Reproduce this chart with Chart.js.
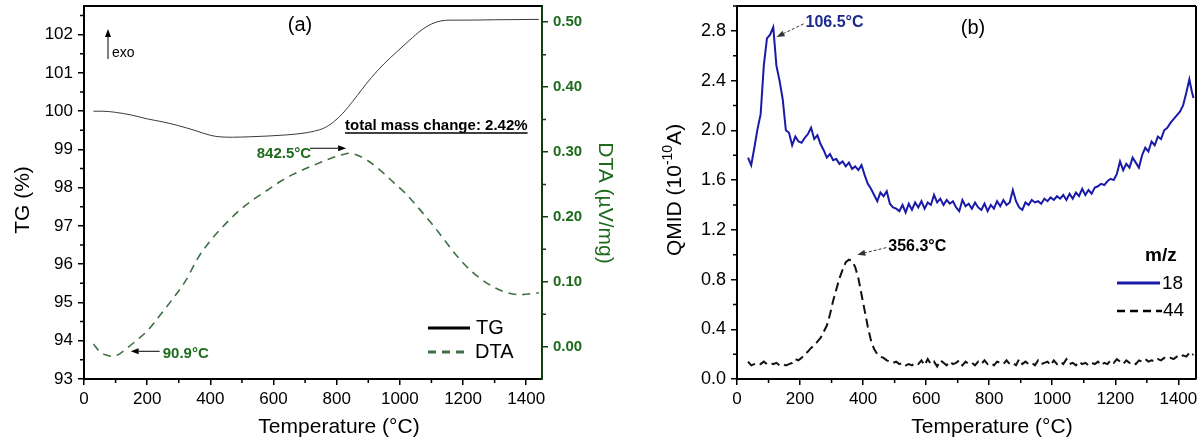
<!DOCTYPE html>
<html>
<head>
<meta charset="utf-8">
<script src="https://cdn.jsdelivr.net/npm/chart.js@4.4.0/dist/chart.umd.min.js"></script>
<style>
  html, body { margin: 0; padding: 0; background: #fff; }
  #wrapA { position: absolute; left: 0; top: 0; width: 620px; height: 443px; }
  #wrapB { position: absolute; left: 620px; top: 0; width: 582px; height: 443px; }
</style>
</head>
<body>
<div id="wrapA"><canvas id="chartA"></canvas></div>
<div id="wrapB"><canvas id="chartB"></canvas></div>
<script>
// ---- panel (a): TG / DTA ----
var tgTemp  = [30, 60, 100, 150, 200, 250, 300, 350, 400, 430, 470, 520, 580, 640, 690, 730, 760, 790, 820, 850, 880, 910, 950, 990, 1030, 1070, 1100, 1130, 1160, 1200, 1300, 1440];
var tgValue = [100.0, 100.0, 99.97, 99.9, 99.8, 99.72, 99.62, 99.5, 99.37, 99.33, 99.32, 99.33, 99.35, 99.38, 99.42, 99.48, 99.56, 99.72, 99.95, 100.25, 100.57, 100.88, 101.24, 101.55, 101.85, 102.13, 102.28, 102.36, 102.38, 102.38, 102.39, 102.4];

var dtaTemp  = [30, 50, 70, 91, 110, 130, 160, 200, 240, 280, 320, 360, 400, 440, 490, 540, 580, 620, 660, 700, 740, 780, 820, 842, 870, 900, 940, 980, 1020, 1060, 1100, 1140, 1180, 1220, 1260, 1300, 1340, 1380, 1440];
var dtaValue = [0.004, -0.008, -0.013, -0.015, -0.012, -0.005, 0.007, 0.024, 0.048, 0.073, 0.100, 0.136, 0.163, 0.185, 0.209, 0.228, 0.241, 0.254, 0.265, 0.274, 0.282, 0.290, 0.296, 0.298, 0.294, 0.286, 0.271, 0.253, 0.235, 0.213, 0.190, 0.165, 0.140, 0.119, 0.103, 0.091, 0.083, 0.080, 0.083];

// ---- panel (b): QMID ----
var msTemp = [
  35, 45, 55, 65, 75, 85, 95, 105, 115, 125,
  135, 145, 155, 165, 175, 185, 195, 205, 215, 225,
  235, 245, 255, 265, 275, 285, 295, 305, 315, 325,
  335, 345, 355, 365, 375, 385, 395, 405, 415, 425,
  435, 445, 455, 465, 475, 485, 495, 505, 515, 525,
  535, 545, 555, 565, 575, 585, 595, 605, 615, 625,
  635, 645, 655, 665, 675, 685, 695, 705, 715, 725,
  735, 745, 755, 765, 775, 785, 795, 805, 815, 825,
  835, 845, 855, 865, 875, 885, 895, 905, 915, 925,
  935, 945, 955, 965, 975, 985, 995, 1005, 1015, 1025,
  1035, 1045, 1055, 1065, 1075, 1085, 1095, 1105, 1115, 1125,
  1135, 1145, 1155, 1165, 1175, 1185, 1195, 1205, 1215, 1225,
  1235, 1245, 1255, 1265, 1275, 1285, 1295, 1305, 1315, 1325,
  1335, 1345, 1355, 1365, 1375, 1385, 1395, 1405, 1415, 1425,
  1435, 1442, 1448
];
var mz18 = [
  1.78, 1.72, 1.86, 2.01, 2.13, 2.52, 2.74, 2.77, 2.83, 2.52,
  2.40, 2.25, 2.00, 1.98, 1.88, 1.95, 1.91, 1.90, 1.94, 1.97,
  2.02, 1.93, 1.96, 1.89, 1.84, 1.78, 1.81, 1.76, 1.77, 1.73,
  1.75, 1.71, 1.74, 1.69, 1.71, 1.68, 1.72, 1.64, 1.57, 1.53,
  1.48, 1.43, 1.50, 1.47, 1.51, 1.41, 1.38, 1.37, 1.35, 1.40,
  1.34, 1.41, 1.36, 1.42, 1.38, 1.43, 1.37, 1.42, 1.40, 1.48,
  1.42, 1.45, 1.40, 1.44, 1.41, 1.43, 1.38, 1.35, 1.44, 1.39,
  1.41, 1.37, 1.42, 1.38, 1.36, 1.41, 1.35, 1.40, 1.37, 1.43,
  1.39, 1.44, 1.40, 1.42, 1.52, 1.43, 1.38, 1.36, 1.42, 1.40,
  1.44, 1.42, 1.43, 1.41, 1.45, 1.43, 1.46, 1.44, 1.47, 1.45,
  1.48, 1.44, 1.49, 1.45, 1.50, 1.47, 1.53, 1.48, 1.52, 1.49,
  1.54, 1.55, 1.57, 1.56, 1.59, 1.61, 1.60, 1.65, 1.75, 1.68,
  1.73, 1.70, 1.78, 1.74, 1.70, 1.80, 1.86, 1.83, 1.91, 1.88,
  1.95, 1.93, 2.00, 2.02, 2.06, 2.09, 2.12, 2.15, 2.20, 2.30,
  2.41, 2.32, 2.26
];
var mz44 = [
  0.14, 0.11, 0.12, 0.13, 0.12, 0.14, 0.12, 0.13, 0.12, 0.13,
  0.11, 0.12, 0.11, 0.12, 0.13, 0.16, 0.15, 0.17, 0.20, 0.22,
  0.25, 0.27, 0.30, 0.33, 0.38, 0.43, 0.52, 0.63, 0.72, 0.81,
  0.88, 0.94, 0.96, 0.95, 0.90, 0.81, 0.68, 0.55, 0.42, 0.31,
  0.24, 0.20, 0.18, 0.17, 0.15, 0.14, 0.13, 0.14, 0.12, 0.13,
  0.11, 0.12, 0.11, 0.13, 0.12, 0.15, 0.11, 0.16, 0.12, 0.14,
  0.10, 0.15, 0.13, 0.11, 0.14, 0.12, 0.13, 0.15, 0.11, 0.14,
  0.12, 0.13, 0.11, 0.14, 0.12, 0.15, 0.12, 0.13, 0.11, 0.14,
  0.13, 0.12, 0.15, 0.12, 0.13, 0.11, 0.16, 0.12, 0.14, 0.12,
  0.13, 0.11, 0.15, 0.12, 0.13, 0.14, 0.11, 0.15, 0.12, 0.14,
  0.12, 0.16, 0.12, 0.13, 0.11, 0.14, 0.12, 0.13, 0.11, 0.13,
  0.12, 0.14, 0.11, 0.13, 0.12, 0.15, 0.13, 0.16, 0.14, 0.12,
  0.15, 0.13, 0.14, 0.12, 0.15, 0.14, 0.16, 0.14, 0.15, 0.14,
  0.16, 0.15, 0.17, 0.16, 0.17, 0.16, 0.18, 0.17, 0.19, 0.18,
  0.21, 0.19, 0.20
];

// ---- ticks ----
var tempTicks = [0, 200, 400, 600, 800, 1000, 1200, 1400];
var tgTicks   = [93, 94, 95, 96, 97, 98, 99, 100, 101, 102];
var dtaTicks  = [0, 0.1, 0.2, 0.3, 0.4, 0.5];
var qmidTicks = [0, 0.4, 0.8, 1.2, 1.6, 2.0, 2.4, 2.8];

var FONT = "'Liberation Sans', Arial, Helvetica, sans-serif";
var GREEN_TXT = '#1d6b1d';
var GREEN_LINE = '#3f6f43';
var GREEN_AXIS = '#0f3f0f';
var BLUE = '#1a1aa8';

Chart.defaults.font.family = FONT;
Chart.defaults.color = '#000';

function pts(xs, ys) {
  return xs.map(function (x, i) { return { x: x, y: ys[i] }; });
}

function setTicks(list) {
  return function (scale) {
    scale.ticks = list.map(function (v) { return { value: v }; });
  };
}

function fixWidth(w) {
  return function (scale) {
    scale.width = w;
    scale.paddingTop = 0;
    scale.paddingBottom = 0;
  };
}

function fixHeight(h) {
  return function (scale) {
    scale.height = h;
    scale.paddingLeft = 0;
    scale.paddingRight = 0;
  };
}

function axisStyle(color) {
  return {
    grid: { drawOnChartArea: false, drawTicks: true, tickLength: 6, color: color, lineWidth: 1.5 },
    border: { color: color, width: 2 }
  };
}

function line(ctx, x1, y1, x2, y2, color, w, dash) {
  ctx.save();
  ctx.strokeStyle = color;
  ctx.lineWidth = w;
  ctx.setLineDash(dash || []);
  ctx.beginPath();
  ctx.moveTo(x1, y1);
  ctx.lineTo(x2, y2);
  ctx.stroke();
  ctx.restore();
}

function arrow(ctx, x1, y1, x2, y2, color, dash) {
  var a = Math.atan2(y2 - y1, x2 - x1);
  var len = 8, hw = 3;
  var bx = x2 - len * Math.cos(a), by = y2 - len * Math.sin(a);
  line(ctx, x1, y1, bx, by, color, 1, dash);
  ctx.save();
  ctx.fillStyle = color;
  ctx.beginPath();
  ctx.moveTo(x2, y2);
  ctx.lineTo(bx + hw * Math.sin(a), by - hw * Math.cos(a));
  ctx.lineTo(bx - hw * Math.sin(a), by + hw * Math.cos(a));
  ctx.closePath();
  ctx.fill();
  ctx.restore();
}

function text(ctx, str, x, y, font, color, align) {
  ctx.save();
  ctx.font = font;
  ctx.fillStyle = color;
  ctx.textAlign = align || 'left';
  ctx.textBaseline = 'middle';
  ctx.fillText(str, x, y);
  var w = ctx.measureText(str).width;
  ctx.restore();
  return w;
}

function vtext(ctx, str, x, y, rot, font, color) {
  ctx.save();
  ctx.translate(x, y);
  ctx.rotate(rot);
  text(ctx, str, 0, 0, font, color, 'center');
  ctx.restore();
}

// minor ticks halfway between the major ones
var minorTicks = {
  id: 'minorTicks',
  afterDraw: function (chart) {
    var ctx = chart.ctx;
    Object.keys(chart.scales).forEach(function (id) {
      var s = chart.scales[id];
      var majors = s.ticks.map(function (t) { return t.value; });
      if (majors.length < 2) return;
      var step = majors[1] - majors[0];
      ctx.save();
      ctx.strokeStyle = s.options.border.color;
      ctx.lineWidth = 1.5;
      ctx.beginPath();
      majors.forEach(function (v) {
        var m = v + step / 2;
        if (m > s.max) return;
        var p = s.getPixelForValue(m);
        if (s.isHorizontal()) { ctx.moveTo(p, s.top); ctx.lineTo(p, s.top + 4); }
        else if (s.position === 'left') { ctx.moveTo(s.right, p); ctx.lineTo(s.right - 4, p); }
        else { ctx.moveTo(s.left, p); ctx.lineTo(s.left + 4, p); }
      });
      ctx.stroke();
      ctx.restore();
    });
  }
};

var decoA = {
  id: 'decoA',
  afterDraw: function (chart) {
    var ctx = chart.ctx, area = chart.chartArea;
    var xs = chart.scales.x, y2 = chart.scales.y1;
    line(ctx, area.left, area.top, area.right, area.top, '#000', 2);

    text(ctx, 'Temperature (\u00B0C)', 339, 427, '21px ' + FONT, '#000', 'center');
    vtext(ctx, 'TG (%)', 23, 200, -Math.PI / 2, '21px ' + FONT, '#000');
    vtext(ctx, 'DTA (\u00B5V/mg)', 605, 203, Math.PI / 2, '21px ' + FONT, GREEN_TXT);

    text(ctx, '(a)', 300, 25, '20px ' + FONT, '#000', 'center');

    // exo arrow
    arrow(ctx, 108, 59, 108, 29, '#000');
    text(ctx, 'exo', 112, 53, '14px ' + FONT, '#000');

    // total mass change
    var w = text(ctx, 'total mass change: 2.42%', 345, 126, 'bold 15px ' + FONT, '#000');
    line(ctx, 345, 133, 345 + w, 133, '#000', 1.5);

    // DTA peak
    var px = xs.getPixelForValue(842.5), py = y2.getPixelForValue(0.298);
    arrow(ctx, px - 40, py - 5, px - 4, py - 5, '#000');
    text(ctx, '842.5\u00B0C', px - 39, py + 1, 'bold 15px ' + FONT, GREEN_TXT, 'right');

    // DTA minimum
    var mx = xs.getPixelForValue(90.9), my = y2.getPixelForValue(-0.015);
    arrow(ctx, mx + 47, my - 5, mx + 18, my - 5, '#000');
    text(ctx, '90.9\u00B0C', mx + 50, my - 2, 'bold 15px ' + FONT, GREEN_TXT);

    // legend
    line(ctx, 428, 328, 470, 328, '#000', 3);
    text(ctx, 'TG', 476, 328, '20px ' + FONT, '#000');
    line(ctx, 428, 352, 466, 352, GREEN_LINE, 3, [8, 6]);
    text(ctx, 'DTA', 475, 352, '20px ' + FONT, '#000');
  }
};

var decoB = {
  id: 'decoB',
  afterDraw: function (chart) {
    var ctx = chart.ctx, area = chart.chartArea;
    var xs = chart.scales.x, ys = chart.scales.y;
    line(ctx, area.left, area.top, area.right, area.top, '#000', 2);
    line(ctx, area.right, area.top, area.right, area.bottom, '#000', 2);

    text(ctx, 'Temperature (\u00B0C)', 372, 427, '21px ' + FONT, '#000', 'center');

    // QMID (10^-10 A), rotated, with a real superscript
    ctx.save();
    ctx.translate(55, 190);
    ctx.rotate(-Math.PI / 2);
    var big = '21px ' + FONT, small = '14px ' + FONT;
    ctx.font = big;
    var w1 = ctx.measureText('QMID (10').width;
    var w3 = ctx.measureText('A)').width;
    ctx.font = small;
    var w2 = ctx.measureText('-10').width;
    var x0 = -(w1 + w2 + w3) / 2;
    text(ctx, 'QMID (10', x0, 0, big, '#000');
    text(ctx, '-10', x0 + w1, -7, small, '#000');
    text(ctx, 'A)', x0 + w1 + w2, 0, big, '#000');
    ctx.restore();

    text(ctx, '(b)', 353, 28, '20px ' + FONT, '#000', 'center');

    // m/z 18 peak
    var px = xs.getPixelForValue(106.5), py = ys.getPixelForValue(2.84);
    arrow(ctx, px + 33, py - 2, px + 6, py + 11, '#333', [3, 2]);
    text(ctx, '106.5\u00B0C', px + 35, py - 3, 'bold 16px ' + FONT, '#1c2a8c');

    // m/z 44 peak
    var qx = xs.getPixelForValue(356.3), qy = ys.getPixelForValue(0.96);
    arrow(ctx, qx + 37, qy - 12, qx + 8, qy - 5, '#333', [3, 2]);
    text(ctx, '356.3\u00B0C', qx + 39, qy - 13, 'bold 16px ' + FONT, '#000');

    // legend
    text(ctx, 'm/z', 525, 256, 'bold 19px ' + FONT, '#000');
    line(ctx, 497, 283, 540, 283, BLUE, 3);
    text(ctx, '18', 542, 284, '19px ' + FONT, '#000');
    line(ctx, 497, 311, 542, 311, '#000', 2.5, [8, 5]);
    text(ctx, '44', 543, 311, '19px ' + FONT, '#000');
  }
};

var common = {
  responsive: true,
  maintainAspectRatio: false,
  animation: false,
  events: [],
  plugins: { legend: { display: false }, tooltip: { enabled: false } }
};

new Chart(document.getElementById('chartA'), {
  type: 'line',
  data: {
    datasets: [
      {
        label: 'TG', data: pts(tgTemp, tgValue), yAxisID: 'y',
        borderColor: '#3a3a3a', borderWidth: 1, pointRadius: 0,
        cubicInterpolationMode: 'monotone'
      },
      {
        label: 'DTA', data: pts(dtaTemp, dtaValue), yAxisID: 'y1',
        borderColor: GREEN_LINE, borderWidth: 1.6, borderDash: [8, 6], pointRadius: 0,
        cubicInterpolationMode: 'monotone'
      }
    ]
  },
  options: Object.assign({}, common, {
    layout: { padding: { top: 6, left: 0, right: 0, bottom: 0 } },
    scales: {
      x: Object.assign({
        type: 'linear', min: 0, max: 1450,
        afterBuildTicks: setTicks(tempTicks),
        afterFit: fixHeight(64),
        ticks: { font: { size: 17 }, padding: 4, maxRotation: 0, autoSkip: false, color: '#000',
          callback: function (v) { return String(v); } }
      }, axisStyle('#000')),
      y: Object.assign({
        type: 'linear', position: 'left', min: 93, max: 102.75,
        afterBuildTicks: setTicks(tgTicks),
        afterFit: fixWidth(84),
        ticks: { font: { size: 17 }, padding: 5, autoSkip: false, color: '#000',
          callback: function (v) { return String(v); } }
      }, axisStyle('#000')),
      y1: Object.assign({
        type: 'linear', position: 'right', min: -0.05, max: 0.525,
        afterBuildTicks: setTicks(dtaTicks),
        afterFit: fixWidth(78),
        ticks: { font: { size: 15, weight: 'bold' }, padding: 5, autoSkip: false, color: GREEN_TXT,
          callback: function (v) { return v.toFixed(2); } }
      }, axisStyle(GREEN_AXIS))
    }
  }),
  plugins: [minorTicks, decoA]
});

new Chart(document.getElementById('chartB'), {
  type: 'line',
  data: {
    datasets: [
      {
        label: '18', data: pts(msTemp, mz18),
        borderColor: BLUE, borderWidth: 2, pointRadius: 0, tension: 0
      },
      {
        label: '44', data: pts(msTemp, mz44),
        borderColor: '#111', borderWidth: 2, borderDash: [9, 5], pointRadius: 0, tension: 0
      }
    ]
  },
  options: Object.assign({}, common, {
    layout: { padding: { top: 6, left: 0, right: 6, bottom: 0 } },
    scales: {
      x: Object.assign({
        type: 'linear', min: 0, max: 1456,
        afterBuildTicks: setTicks(tempTicks),
        afterFit: fixHeight(64),
        ticks: { font: { size: 17 }, padding: 4, maxRotation: 0, autoSkip: false, color: '#000',
          callback: function (v) { return String(v); } }
      }, axisStyle('#000')),
      y: Object.assign({
        type: 'linear', position: 'left', min: 0, max: 3.0,
        afterBuildTicks: setTicks(qmidTicks),
        afterFit: fixWidth(117),
        ticks: { font: { size: 18 }, padding: 5, autoSkip: false, color: '#000',
          callback: function (v) { return v.toFixed(1); } }
      }, axisStyle('#000'))
    }
  }),
  plugins: [minorTicks, decoB]
});
</script>
</body>
</html>
